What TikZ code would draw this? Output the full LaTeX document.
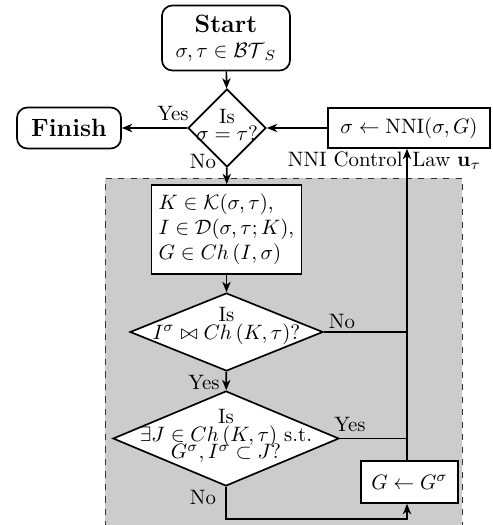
\documentclass[tikz,border=0pt]{standalone}
\usetikzlibrary{shapes.geometric,arrows.meta}
\begin{document}
\begin{tikzpicture}[x=0.48pt,y=-0.48pt,
  box/.style={draw,thick,fill=white,inner sep=0pt},
  rbox/.style={box,rounded corners=5pt},
  dia/.style={draw,thick,fill=white,diamond,inner sep=0pt},
  lbl/.style={inner sep=0pt},
  conn/.style={thick},
  arr/.style={thick,-{Stealth[length=5pt,width=4pt,inset=1.5pt]}}]
\useasboundingbox (0,0) rectangle (493,525);
\clip (0,0) rectangle (493,525);
% gray region
\fill[gray!40] (105,178) rectangle (462,540);
\draw[black!80,dashed,thin] (105,540) -- (105,178) -- (462,178) -- (462,540);
% nodes
\node[rbox,minimum width=128*0.48pt,minimum height=65*0.48pt,align=center] (start) at (226,38)
  {{\large\bfseries Start}\\[0pt]$\sigma,\tau\in\mathcal{BT}_S$};
\node[dia,minimum width=78*0.48pt,minimum height=78*0.48pt] (d1) at (227,128) {};
\node[lbl,align=center] (d1t) at (227,125) {Is\\[-4pt]$\sigma=\tau$?};
\node[rbox,minimum width=104*0.48pt,minimum height=41*0.48pt] (fin) at (69,128) {\large\bfseries Finish};
\node[box,minimum width=162*0.48pt,minimum height=40*0.48pt] (nni) at (409,128) {$\sigma\leftarrow\mathrm{NNI}(\sigma,G)$};
\node[box,minimum width=145*0.48pt,minimum height=89*0.48pt,align=left,inner xsep=3.5pt] (kb) at (226.5,229.5)
  {$K\in\mathcal{K}(\sigma,\tau)$,\\$I\in\mathcal{D}(\sigma,\tau;K)$,\\$G\in Ch\,(I,\sigma)$};
\node[dia,minimum width=193*0.48pt,minimum height=78*0.48pt] (d2) at (226.5,332) {};
\node[lbl,align=center] (d2t) at (226.5,326) {Is\\[-3.5pt]$I^\sigma\bowtie Ch\,(K,\tau)$?};
\node[dia,minimum width=226*0.48pt,minimum height=95*0.48pt] (d3) at (226,438.5) {};
\node[lbl,align=center] (d3t) at (226,436) {Is\\[-3.5pt]$\exists J\in Ch\,(K,\tau)$ s.t.\\[-3.5pt]$G^\sigma,I^\sigma\subset J$?};
\node[box,minimum width=97*0.48pt,minimum height=42*0.48pt] (gb) at (409.5,482) {$G\leftarrow G^\sigma$};
% labels
\node[lbl] (ly1) at (173,113) {Yes};
\node[lbl] (ln1) at (203,161) {No};
\node[lbl,anchor=base east] (ctl1) at (403,166) {NNI Control};
\node[lbl,anchor=base west] (ctl2) at (412,166) {Law $\mathbf{u}_\tau$};
\node[lbl] (ln2) at (342,321) {No};
\node[lbl] (ly2) at (204,382) {Yes};
\node[lbl] (ly3) at (350,424) {Yes};
\node[lbl] (ln3) at (203,497) {No};
\coordinate (cx) at (407,0);
\coordinate (bot) at (407,519);
% connectors
\draw[arr] (start) -- (d1);
\draw[arr] (d1) -- (fin);
\draw[arr] (nni) -- (d1);
\draw[arr] (d1) -- (kb);
\draw[arr] (kb) -- (d2);
\draw[arr] (d2) -- (d3);
\draw[conn] (d2.east) -- (d2.east -| cx);
\draw[conn] (d3.east) -- (d3.east -| cx);
\draw[arr] (gb.north -| cx) -- (nni.south -| cx);
\draw[arr] (d3.south) |- (bot) -- (gb.south -| cx);
\end{tikzpicture}
\end{document}
